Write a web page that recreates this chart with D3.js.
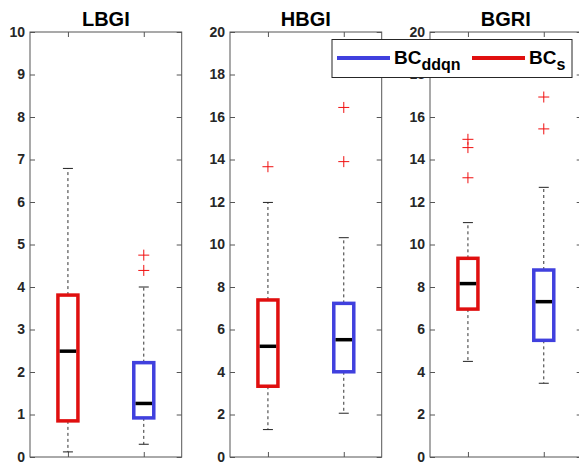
<!DOCTYPE html>
<head>
<style>
    body { margin: 0; background: white; font-family: "Liberation Sans", Arial, sans-serif; }
    .tick text { font-weight: bold; fill: #262626; }
    .tick line { stroke: #555; }
    .whisker { stroke: #333; stroke-dasharray: 3 3; }
</style>
</head>
<body>
<script src="https://cdn.jsdelivr.net/npm/d3@7"></script>
<script>
// panels and their y ranges
var panels = ["LBGI", "HBGI", "BGRI"];
var yMax = [10, 20, 20];
var yStep = [1, 2, 2];
var groups = ["BC_s", "BC_ddqn"];

// [lower whisker, q1, median, q3, upper whisker] for each panel
var bcsStats = [
    [0.12, 0.85, 2.49, 3.81, 6.79],
    [1.29, 3.33, 5.21, 7.39, 11.98],
    [4.50, 6.96, 8.16, 9.35, 11.03]
];
var ddqnStats = [
    [0.30, 0.92, 1.26, 2.22, 4.00],
    [2.06, 4.01, 5.52, 7.23, 10.32],
    [3.47, 5.49, 7.31, 8.80, 12.69]
];
var bcsOutliers = [[], [13.66], [13.14, 14.56, 14.95]];
var ddqnOutliers = [[4.39, 4.75], [13.9, 16.45], [15.44, 16.94]];

var colors = {BC_s: "#e00f0f", BC_ddqn: "#4040de"};

var width = 579, height = 466;
var panelLeft = [30, 230, 430],
    panelWidth = 151.7,
    plotTop = 32, plotBottom = 457;

var svg = d3.select("body").append("svg")
    .attr("width", width)
    .attr("height", height);

panels.forEach(function(name, p) {
    var g = svg.append("g").attr("transform", "translate(" + panelLeft[p] + ",0)");

    var x = d3.scaleLinear().domain([0.5, 2.5]).range([0, panelWidth]);
    var y = d3.scaleLinear().domain([0, yMax[p]]).range([plotBottom, plotTop]);
    var yticks = d3.range(0, yMax[p] + 0.001, yStep[p]);

    // frame
    g.append("rect")
        .attr("x", 0).attr("y", plotTop)
        .attr("width", panelWidth).attr("height", plotBottom - plotTop)
        .attr("fill", "white")
        .attr("stroke", "#555").attr("stroke-width", 1);

    g.append("g")
        .call(d3.axisLeft(y).tickValues(yticks).tickSize(-5).tickPadding(5))
        .attr("font-size", 14)
        .call(function(a) { a.select(".domain").remove(); });

    g.append("g").attr("transform", "translate(" + panelWidth + ",0)")
        .call(d3.axisRight(y).tickValues(yticks).tickSize(-5).tickFormat(""))
        .call(function(a) { a.select(".domain").remove(); });

    g.append("g").attr("transform", "translate(0," + plotBottom + ")")
        .call(d3.axisBottom(x).tickValues([1, 2]).tickSize(-5).tickFormat(""))
        .call(function(a) { a.select(".domain").remove(); });

    g.append("g").attr("transform", "translate(0," + plotTop + ")")
        .call(d3.axisTop(x).tickValues([1, 2]).tickSize(-5).tickFormat(""))
        .call(function(a) { a.select(".domain").remove(); });

    // title
    g.append("text")
        .attr("x", panelWidth / 2).attr("y", 26)
        .attr("text-anchor", "middle")
        .style("font-size", "20px").style("font-weight", "bold")
        .text(name);

    var sets = [
        {key: "BC_s", s: bcsStats[p], out: bcsOutliers[p], pos: 1},
        {key: "BC_ddqn", s: ddqnStats[p], out: ddqnOutliers[p], pos: 2}
    ];

    sets.forEach(function(d) {
        var cx = x(d.pos), bw = 20, cap = 5;
        var box = g.append("g");
        // whiskers
        box.append("line").attr("class", "whisker")
            .attr("x1", cx).attr("x2", cx)
            .attr("y1", y(d.s[3])).attr("y2", y(d.s[4]));
        box.append("line").attr("class", "whisker")
            .attr("x1", cx).attr("x2", cx)
            .attr("y1", y(d.s[1])).attr("y2", y(d.s[0]));
        [d.s[0], d.s[4]].forEach(function(v) {
            box.append("line")
                .attr("x1", cx - cap).attr("x2", cx + cap)
                .attr("y1", y(v)).attr("y2", y(v))
                .attr("stroke", "#222").attr("stroke-width", 1);
        });
        box.append("rect")
            .attr("x", cx - bw / 2).attr("width", bw)
            .attr("y", y(d.s[3])).attr("height", y(d.s[1]) - y(d.s[3]))
            .attr("fill", "none")
            .attr("stroke", colors[d.key]).attr("stroke-width", 3.5);
        box.append("line")
            .attr("x1", cx - bw / 2 + 1.75).attr("x2", cx + bw / 2 - 1.75)
            .attr("y1", y(d.s[2])).attr("y2", y(d.s[2]))
            .attr("stroke", "black").attr("stroke-width", 3.5);
        // outliers
        d.out.forEach(function(v) {
            box.append("path")
                .attr("d", "M" + (cx - 5.5) + "," + y(v) + "h11M" + cx + "," + (y(v) - 5.5) + "v11")
                .attr("stroke", "#f01010").attr("stroke-width", 1).attr("fill", "none");
        });
    });
});

// legend
var legend = svg.append("g");
legend.append("rect")
    .attr("x", 332).attr("y", 39.5).attr("width", 240).attr("height", 38)
    .attr("fill", "white").attr("stroke", "#262626").attr("stroke-width", 1);

var legendItems = [
    {key: "BC_ddqn", sub: "ddqn", x: 337},
    {key: "BC_s", sub: "s", x: 472}
];
legendItems.forEach(function(d) {
    legend.append("line")
        .attr("x1", d.x).attr("x2", d.x + 53)
        .attr("y1", 58).attr("y2", 58)
        .attr("stroke", colors[d.key]).attr("stroke-width", 4);
    var t = legend.append("text")
        .attr("x", d.x + 57).attr("y", 64)
        .style("font-size", "19px").style("font-weight", "bold").attr("fill", "black");
    t.append("tspan").text("BC");
    t.append("tspan").attr("dy", 6).style("font-size", "16px").text(d.sub);
});
</script>
</body>
